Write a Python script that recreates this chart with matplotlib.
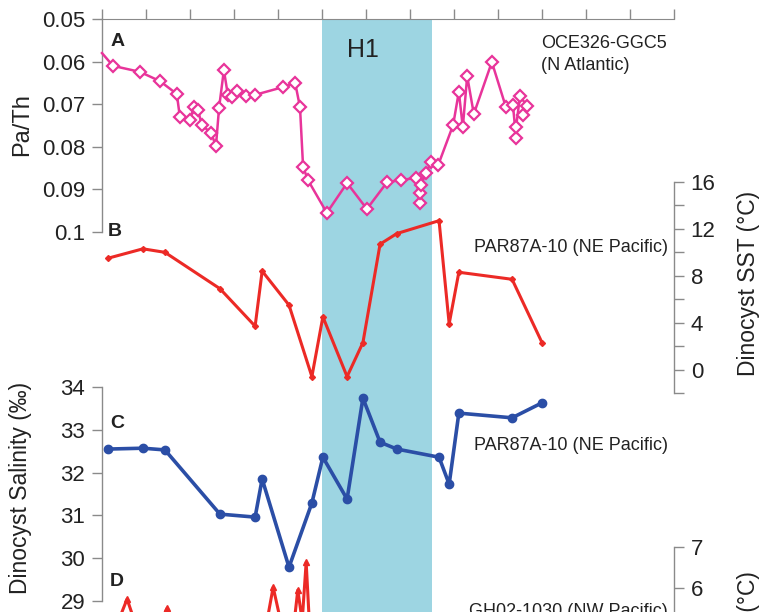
import numpy as np
import matplotlib
matplotlib.use("Agg")
import matplotlib.pyplot as plt

plt.rcParams['font.family'] = ['Liberation Sans', 'DejaVu Sans']

# ---- data (age in ka, x axis has no labels) ----
h1_start, h1_end = 15.0, 17.5

# A: OCE326-GGC5 Pa/Th
age_a = [10.00, 10.25, 10.86, 11.32, 11.70, 11.77, 12.00, 12.09, 12.18, 12.27,
         12.48, 12.59, 12.66, 12.77, 12.86, 12.95, 13.07, 13.27, 13.48, 14.11,
         14.39, 14.50, 14.57, 14.68, 15.11, 15.57, 16.02, 16.48, 16.80, 17.14,
         17.23, 17.23, 17.25, 17.36, 17.48, 17.64, 17.98, 18.11, 18.20, 18.30,
         18.45, 18.86, 19.18, 19.34, 19.41, 19.41, 19.50, 19.66, 19.57]
pa_th = [0.0580, 0.0610, 0.0624, 0.0646, 0.0676, 0.0730, 0.0737, 0.0707, 0.0714, 0.0749,
         0.0768, 0.0798, 0.0709, 0.0620, 0.0678, 0.0683, 0.0669, 0.0681, 0.0678, 0.0660,
         0.0650, 0.0707, 0.0847, 0.0878, 0.0955, 0.0885, 0.0946, 0.0883, 0.0878, 0.0873,
         0.0932, 0.0908, 0.0890, 0.0862, 0.0836, 0.0843, 0.0749, 0.0671, 0.0754, 0.0634,
         0.0723, 0.0601, 0.0707, 0.0702, 0.0779, 0.0754, 0.0681, 0.0704, 0.0725]

# B, C: PAR87A-10 dinocyst SST and salinity
age_par = [10.14, 10.93, 11.43, 12.68, 13.48, 13.64, 14.25, 14.77, 15.02, 15.57,
           15.93, 16.32, 16.70, 17.66, 17.89, 18.11, 19.32, 20.00]
sst_par = [9.5, 10.3, 10.0, 6.9, 3.7, 8.4, 5.5, -0.6, 4.5, -0.6,
           2.3, 10.7, 11.6, 12.7, 3.9, 8.3, 7.7, 2.3]
sal_par = [32.55, 32.57, 32.53, 31.03, 30.96, 31.85, 29.79, 31.29, 32.36, 31.38,
           33.74, 32.71, 32.55, 32.36, 31.73, 33.39, 33.28, 33.63]

# D: GH02-1030 SST (only the top of the record is visible)
age_gh = [10.30, 10.57, 10.80, 11.30, 11.48, 11.70, 13.70, 13.89, 14.10, 14.35,
          14.45, 14.55, 14.64, 14.72]
sst_gh = [5.0, 5.73, 5.0, 5.1, 5.51, 5.0, 4.9, 6.02, 5.0, 5.0,
          5.95, 5.2, 6.63, 5.0]

# ---- layout helpers (pixel boxes) ----
W, H = 760, 612
def box(x0, y0, x1, y1):
    return [x0 / W, 1 - y1 / H, (x1 - x0) / W, (y1 - y0) / H]

def ftext(x, y, s, **kw):
    fig.text(x / W, 1 - y / H, s, **kw)

grey = '#8a8a8a'
tcol = '#222222'
xlim = (10, 23)

fig = plt.figure(figsize=(7.6, 6.12), dpi=100)

# background with H1 band
bg = fig.add_axes(box(102, 19, 674, 612))
bg.set_xlim(xlim)
bg.axvspan(h1_start, h1_end, color='#9dd5e2', lw=0)
bg.axis('off')

def setup(ax, ylim, side):
    ax.set_xlim(xlim)
    ax.set_ylim(ylim)
    ax.patch.set_visible(False)
    for s in ax.spines.values():
        s.set_visible(False)
    ax.spines[side].set_visible(True)
    ax.spines[side].set_color(grey)
    ax.spines[side].set_linewidth(1.0)
    ax.yaxis.set_ticks_position(side)
    ax.tick_params(axis='y', which='both', length=7, width=1, color=grey,
                   labelsize=16, labelcolor=tcol, pad=5)
    ax.set_xticks([])

# A
axA = fig.add_axes(box(102, 19, 674, 232))
setup(axA, (0.1, 0.05), 'left')
axA.spines['top'].set_visible(True)
axA.spines['top'].set_color(grey)
axA.xaxis.set_ticks_position('top')
axA.set_xticks(np.arange(10, 24, 1))
axA.tick_params(axis='x', length=7, width=1, color=grey, labeltop=False, labelbottom=False)
axA.set_yticks([0.05, 0.06, 0.07, 0.08, 0.09, 0.1])
axA.set_yticklabels(['0.05', '0.06', '0.07', '0.08', '0.09', '0.1'])
axA.plot(age_a, pa_th, color='#e8349a', lw=1.8, marker='D', ms=6,
         mfc='white', mec='#e8349a', mew=1.6, clip_on=False, zorder=3,
         markevery=list(range(1, len(age_a))))

# B
axB = fig.add_axes(box(102, 182, 674, 393))
setup(axB, (-2, 16), 'right')
axB.set_yticks([0, 4, 8, 12, 16])
axB.set_yticks([-2, 2, 6, 10, 14], minor=True)
axB.plot(age_par, sst_par, color='#ec2a26', lw=2.2, marker='D', ms=3,
         mec='#ec2a26', clip_on=False)

# C
axC = fig.add_axes(box(102, 387, 674, 601))
setup(axC, (29, 34), 'left')
axC.set_yticks([29, 30, 31, 32, 33, 34])
axC.plot(age_par, sal_par, color='#2b4ea6', lw=2.6, marker='o', ms=6,
         clip_on=False)

# D
axD = fig.add_axes(box(102, 547, 674, 612))
setup(axD, (7 - 65 / 41, 7), 'right')
axD.set_yticks([6, 7])
axD.plot(age_gh, sst_gh, color='#ec2a26', lw=2.2, marker='^', ms=4)

# labels
ftext(111, 42, 'A', fontsize=14, fontweight='bold', va='center', color=tcol)
ftext(108, 232, 'B', fontsize=14, fontweight='bold', va='center', color=tcol)
ftext(110, 423, 'C', fontsize=14, fontweight='bold', va='center', color=tcol)
ftext(110, 582, 'D', fontsize=14, fontweight='bold', va='center', color=tcol)
ftext(363, 50, 'H1', fontsize=18, ha='center', va='center', color=tcol)

ftext(541, 43, 'OCE326-GGC5', fontsize=13, va='center', color=tcol)
ftext(541, 65, '(N Atlantic)', fontsize=13, va='center', color=tcol)
ftext(668, 247, 'PAR87A-10 (NE Pacific)', fontsize=13, ha='right', va='center', color=tcol)
ftext(668, 446, 'PAR87A-10 (NE Pacific)', fontsize=13, ha='right', va='center', color=tcol)
ftext(668, 603, 'GH02-1030 (NW Pacific)', fontsize=13, ha='right', va='top', color=tcol)

ftext(22, 125, 'Pa/Th', fontsize=17, rotation=90, ha='center', va='center', color=tcol)
ftext(21, 488, 'Dinocyst Salinity (‰)', fontsize=16.5, rotation=90, ha='center', va='center', color=tcol)
ftext(749, 283, 'Dinocyst SST (°C)', fontsize=16.5, rotation=90, ha='center', va='center', color=tcol)
ftext(749, 571, 'SST (°C)', fontsize=16.5, rotation=90, ha='center', va='top', color=tcol)

fig.savefig('out.png', dpi=100)
